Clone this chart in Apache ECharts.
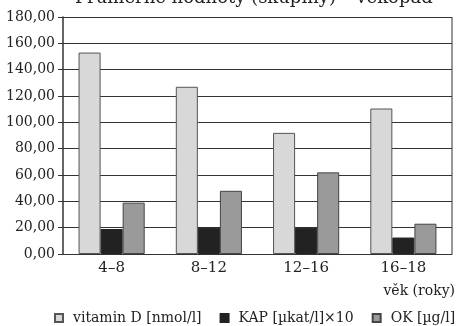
<!DOCTYPE html>
<html><head><meta charset="utf-8">
<script src="https://cdn.jsdelivr.net/npm/echarts@6/dist/echarts.min.js"></script>
<style>html,body{margin:0;padding:0;background:#fff}#c{width:459px;height:326px}</style>
</head><body><div id="c"></div>
<script>
const categories = ['4–8', '8–12', '12–16', '16–18'];
const vitaminD = [153, 127, 92, 110.5];
const kap = [19, 20, 20, 12.5];
const ok = [39, 48, 62, 23];
const seriesNames = ['vitamin D [nmol/l]', 'KAP [µkat/l]×10', 'OK [µg/l]'];
const yTicks = [0, 20, 40, 60, 80, 100, 120, 140, 160, 180];

const FONT = '"DejaVu Serif", "Liberation Serif", serif';
const chart = echarts.init(document.getElementById('c'), null, {renderer: 'canvas'});
chart.setOption({
  animation: false,
  textStyle: {fontFamily: FONT},
  title: {
    text: 'Průměrné hodnoty (skupiny) – věkopád',
    left: 70, top: -16,
    textStyle: {fontFamily: FONT, fontSize: 18, fontWeight: 'normal', color: '#222'}
  },
  graphic: [{
    type: 'text', right: 4, top: 284,
    style: {text: 'věk (roky)', font: '14px ' + FONT, fill: '#222'}
  }, {
    type: 'line', shape: {x1: 452, y1: 17, x2: 452, y2: 254},
    style: {stroke: '#777', lineWidth: 1.5}
  }],
  legend: {
    top: 311, left: 54, width: 420, padding: 0, icon: 'rect',
    itemWidth: 8, itemHeight: 8, itemGap: 18,
    textStyle: {fontFamily: FONT, fontSize: 14, color: '#222', padding: [0, 0, 0, 5]},
    data: seriesNames
  },
  grid: {left: 63, right: 7, top: 17, bottom: 72, containLabel: false},
  xAxis: {
    type: 'category', data: categories,
    axisLine: {lineStyle: {color: '#333', width: 1}},
    axisTick: {show: false},
    axisLabel: {fontFamily: FONT, fontSize: 15, color: '#222', margin: 7}
  },
  yAxis: {
    type: 'value', min: yTicks[0], max: yTicks[yTicks.length - 1], interval: 20,
    axisLine: {show: true, lineStyle: {color: '#333', width: 1.5}},
    axisTick: {show: true, length: 5, lineStyle: {color: '#333'}},
    splitLine: {lineStyle: {color: '#333', width: 1}},
    axisLabel: {fontFamily: FONT, fontSize: 14, color: '#222', margin: 8,
      formatter: v => v.toFixed(2).replace('.', ',')}
  },
  series: [
    {name: seriesNames[0], type: 'bar', data: vitaminD, barGap: '0%', barCategoryGap: '32%',
      itemStyle: {color: '#d8d8d8', borderColor: '#555', borderWidth: 1}},
    {name: seriesNames[1], type: 'bar', data: kap, barGap: '0%', barCategoryGap: '32%',
      itemStyle: {color: '#222', borderColor: '#222', borderWidth: 1}},
    {name: seriesNames[2], type: 'bar', data: ok, barGap: '0%', barCategoryGap: '32%',
      itemStyle: {color: '#9a9a9a', borderColor: '#444', borderWidth: 1}}
  ]
});
</script></body></html>
